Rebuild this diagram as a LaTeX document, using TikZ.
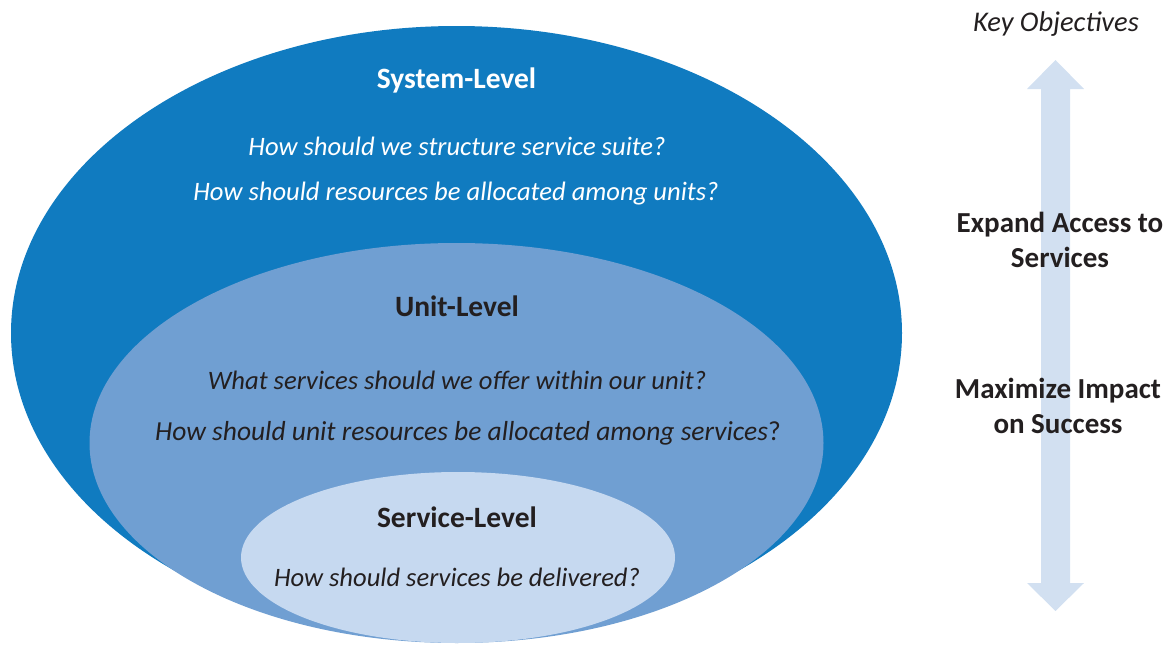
\documentclass[tikz,border=0pt]{standalone}
\usepackage{fontspec}
\setmainfont{Carlito}
\usetikzlibrary{shapes.geometric}
\definecolor{sysblue}{RGB}{16,123,192}
\definecolor{unitblue}{RGB}{112,159,210}
\definecolor{servblue}{RGB}{198,217,240}
\definecolor{arrowblue}{RGB}{210,224,241}
\definecolor{darktext}{RGB}{35,31,32}
\tikzset{
  level/.style={ellipse, inner sep=0pt, draw=none},
  head/.style={font=\fontsize{29.5}{34}\selectfont\bfseries, anchor=center, inner sep=0pt},
  question/.style={font=\fontsize{26.6}{31}\selectfont\itshape, anchor=center, inner sep=0pt},
  objective/.style={font=\fontsize{29}{35}\selectfont\bfseries, align=center, text=darktext, inner sep=0pt},
}
\begin{document}
\begin{tikzpicture}[x=1pt,y=-1pt]
\useasboundingbox (0,0) rectangle (1171,645);
% ellipses
\node[level, fill=sysblue, minimum width=891pt, minimum height=614pt] (sys) at (456.5,333) {};
\node[level, fill=unitblue, minimum width=734pt, minimum height=400pt] (unit) at (456.5,443) {};
\node[level, fill=servblue, minimum width=434pt, minimum height=171pt] (serv) at (458,557.5) {};
% arrow
\fill[arrowblue] (1055.5,60) -- (1084,89) -- (1070,89) -- (1070,583) -- (1084,583)
  -- (1055.5,611) -- (1027,583) -- (1041,583) -- (1041,89) -- (1027,89) -- cycle;
% texts
\node[head, text=white] (systitle) at (456.5,80) {System-Level};
\node[question, text=white] (sysq1) at (457,146) {How should we structure service suite?};
\node[question, text=white] (sysq2) at (456,194) {How should resources be allocated among units?};
\node[head, text=darktext] (unittitle) at (457,306) {Unit-Level};
\node[question, text=darktext] (unitq1) at (457,380) {What services should we offer within our unit?};
\node[question, text=darktext, font=\fontsize{27.5}{31}\selectfont\itshape] (unitq2) at (468,433) {How should unit resources be allocated among services\upshape ?};
\node[head, text=darktext] (servtitle) at (457,517) {Service-Level};
\node[question, text=darktext] (servq) at (457,577) {How should services be delivered?};
\node[question, text=darktext, font=\fontsize{28.5}{33}\selectfont\itshape] (keyobj) at (1056,24) {Key Objectives};
\node[objective] (expand) at (1060,239.5) {Expand Access to\\Services};
\node[objective] (maximize) at (1058,406) {Maximize Impact\\on Success};
\end{tikzpicture}
\end{document}
